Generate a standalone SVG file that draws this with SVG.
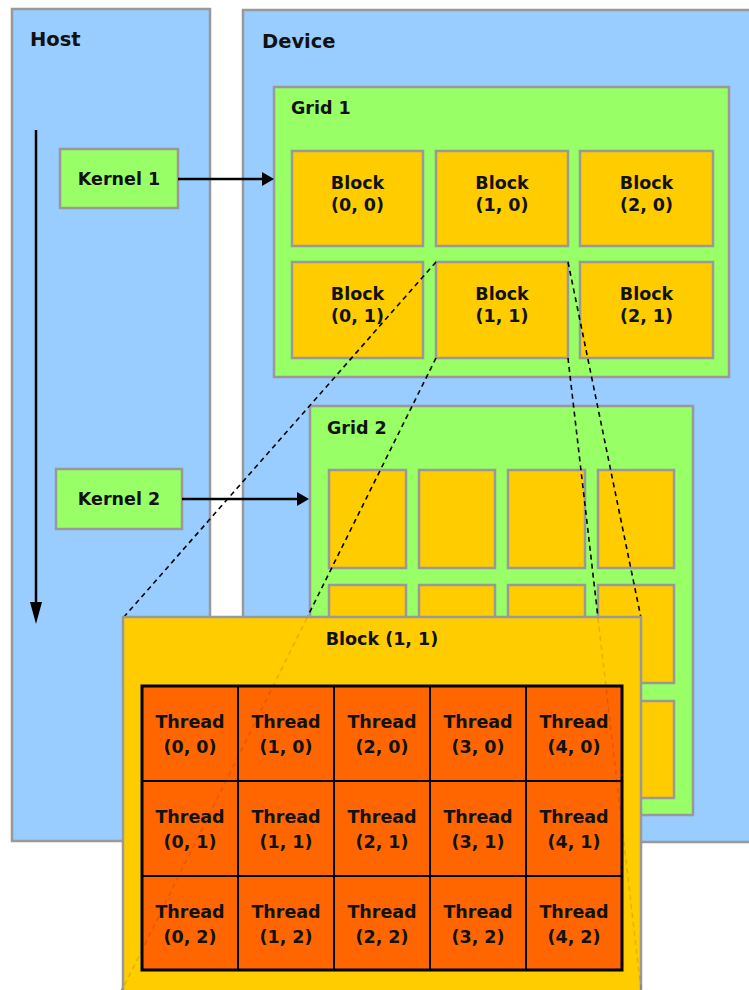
<svg xmlns="http://www.w3.org/2000/svg" width="749" height="990" viewBox="0 0 749 990">
<defs>
<style>
.t{font-family:"DejaVu Sans",Verdana,sans-serif;font-weight:bold;fill:#111;}
.lg{font-size:19.5px;}
.md{font-size:17.5px;}
.c{text-anchor:middle;}
.panel{fill:#99CCFF;stroke:#999;stroke-width:2.5;}
.grid{fill:#99FF66;stroke:#999;stroke-width:2.5;}
.blk{fill:#FFCC00;stroke:#999;stroke-width:2.5;}
.krn{fill:#99FF66;stroke:#999;stroke-width:2.5;}
.thr{fill:#FF6600;stroke:#000;stroke-width:2;}
.dash{stroke:#000;stroke-width:1.6;stroke-dasharray:5 4;fill:none;}
.faint{stroke:#000;stroke-opacity:0.12;stroke-width:1.5;stroke-dasharray:5 4;fill:none;}
.arr{stroke:#000;stroke-width:2.5;fill:none;}
</style>
</defs>
<rect width="749" height="990" fill="#fff"/>
<g id="host">
<rect class="panel" x="12" y="9" width="198" height="832"/>
<text class="t lg" x="30" y="46">Host</text>
</g>
<g id="device">
<rect class="panel" x="243" y="10" width="520" height="832"/>
<text class="t lg" x="262" y="48">Device</text>
</g>
<g id="kernel1">
<rect class="krn" x="60" y="149" width="118" height="59"/>
<text class="t md c" x="119" y="185">Kernel 1</text>
</g>
<g id="kernel2">
<rect class="krn" x="56" y="469" width="126" height="60"/>
<text class="t md c" x="119" y="505">Kernel 2</text>
</g>
<g id="grid1">
<rect class="grid" x="274" y="87" width="455" height="290"/>
<text class="t md" x="291" y="114">Grid 1</text>
<g id="g1b00"><rect class="blk" x="292" y="151" width="131" height="95"/><text class="t md c" x="357.5" y="189">Block</text><text class="t md c" x="357.5" y="211">(0, 0)</text></g>
<g id="g1b10"><rect class="blk" x="436" y="151" width="132" height="95"/><text class="t md c" x="502" y="189">Block</text><text class="t md c" x="502" y="211">(1, 0)</text></g>
<g id="g1b20"><rect class="blk" x="580" y="151" width="133" height="95"/><text class="t md c" x="646.5" y="189">Block</text><text class="t md c" x="646.5" y="211">(2, 0)</text></g>
<g id="g1b01"><rect class="blk" x="292" y="262" width="131" height="96"/><text class="t md c" x="357.5" y="300">Block</text><text class="t md c" x="357.5" y="322">(0, 1)</text></g>
<g id="g1b11"><rect class="blk" x="436" y="262" width="132" height="96"/><text class="t md c" x="502" y="300">Block</text><text class="t md c" x="502" y="322">(1, 1)</text></g>
<g id="g1b21"><rect class="blk" x="580" y="262" width="133" height="96"/><text class="t md c" x="646.5" y="300">Block</text><text class="t md c" x="646.5" y="322">(2, 1)</text></g>
</g>
<g id="grid2">
<rect class="grid" x="310" y="406" width="383" height="409"/>
<text class="t md" x="327" y="434">Grid 2</text>
<rect class="blk" x="329" y="470" width="77" height="98"/>
<rect class="blk" x="419" y="470" width="76" height="98"/>
<rect class="blk" x="508" y="470" width="77" height="98"/>
<rect class="blk" x="598" y="470" width="76" height="98"/>
<rect class="blk" x="329" y="585" width="77" height="98"/>
<rect class="blk" x="419" y="585" width="76" height="98"/>
<rect class="blk" x="508" y="585" width="77" height="98"/>
<rect class="blk" x="598" y="585" width="76" height="98"/>
<rect class="blk" x="329" y="701" width="77" height="97"/>
<rect class="blk" x="419" y="701" width="76" height="97"/>
<rect class="blk" x="508" y="701" width="77" height="97"/>
<rect class="blk" x="598" y="701" width="76" height="97"/>
</g>
<g id="connectors">
<line class="arr" x1="36" y1="130" x2="36" y2="604"/>
<polygon points="30,602 42,602 36,624" fill="#000"/>
<line class="arr" x1="178" y1="179" x2="263" y2="179"/>
<polygon points="262,172 262,186 274,179" fill="#000"/>
<line class="arr" x1="182" y1="499" x2="298" y2="499"/>
<polygon points="297,492 297,506 309,499" fill="#000"/>
<line class="dash" x1="436" y1="262" x2="123" y2="618"/>
<line class="dash" x1="436" y1="358" x2="122" y2="990"/>
<line class="dash" x1="568" y1="262" x2="641" y2="618"/>
<line class="dash" x1="568" y1="358" x2="641" y2="990"/>
</g>
<g id="block11">
<rect class="blk" x="123" y="617" width="518" height="390"/>
<text class="t md c" x="382" y="645">Block (1, 1)</text>
<g id="threads">
<rect class="thr" x="142" y="686" width="96" height="95"/><text class="t md c" x="190" y="728">Thread</text><text class="t md c" x="190" y="753">(0, 0)</text>
<rect class="thr" x="238" y="686" width="96" height="95"/><text class="t md c" x="286" y="728">Thread</text><text class="t md c" x="286" y="753">(1, 0)</text>
<rect class="thr" x="334" y="686" width="96" height="95"/><text class="t md c" x="382" y="728">Thread</text><text class="t md c" x="382" y="753">(2, 0)</text>
<rect class="thr" x="430" y="686" width="96" height="95"/><text class="t md c" x="478" y="728">Thread</text><text class="t md c" x="478" y="753">(3, 0)</text>
<rect class="thr" x="526" y="686" width="96" height="95"/><text class="t md c" x="574" y="728">Thread</text><text class="t md c" x="574" y="753">(4, 0)</text>
<rect class="thr" x="142" y="781" width="96" height="95"/><text class="t md c" x="190" y="823">Thread</text><text class="t md c" x="190" y="848">(0, 1)</text>
<rect class="thr" x="238" y="781" width="96" height="95"/><text class="t md c" x="286" y="823">Thread</text><text class="t md c" x="286" y="848">(1, 1)</text>
<rect class="thr" x="334" y="781" width="96" height="95"/><text class="t md c" x="382" y="823">Thread</text><text class="t md c" x="382" y="848">(2, 1)</text>
<rect class="thr" x="430" y="781" width="96" height="95"/><text class="t md c" x="478" y="823">Thread</text><text class="t md c" x="478" y="848">(3, 1)</text>
<rect class="thr" x="526" y="781" width="96" height="95"/><text class="t md c" x="574" y="823">Thread</text><text class="t md c" x="574" y="848">(4, 1)</text>
<rect class="thr" x="142" y="876" width="96" height="94"/><text class="t md c" x="190" y="918">Thread</text><text class="t md c" x="190" y="943">(0, 2)</text>
<rect class="thr" x="238" y="876" width="96" height="94"/><text class="t md c" x="286" y="918">Thread</text><text class="t md c" x="286" y="943">(1, 2)</text>
<rect class="thr" x="334" y="876" width="96" height="94"/><text class="t md c" x="382" y="918">Thread</text><text class="t md c" x="382" y="943">(2, 2)</text>
<rect class="thr" x="430" y="876" width="96" height="94"/><text class="t md c" x="478" y="918">Thread</text><text class="t md c" x="478" y="943">(3, 2)</text>
<rect class="thr" x="526" y="876" width="96" height="94"/><text class="t md c" x="574" y="918">Thread</text><text class="t md c" x="574" y="943">(4, 2)</text>
<rect x="142" y="686" width="480" height="284" fill="none" stroke="#000" stroke-width="3"/>
</g>
<line class="faint" x1="307" y1="618" x2="122" y2="990"/>
<line class="faint" x1="598" y1="618" x2="641" y2="990"/>
</g>
</svg>
